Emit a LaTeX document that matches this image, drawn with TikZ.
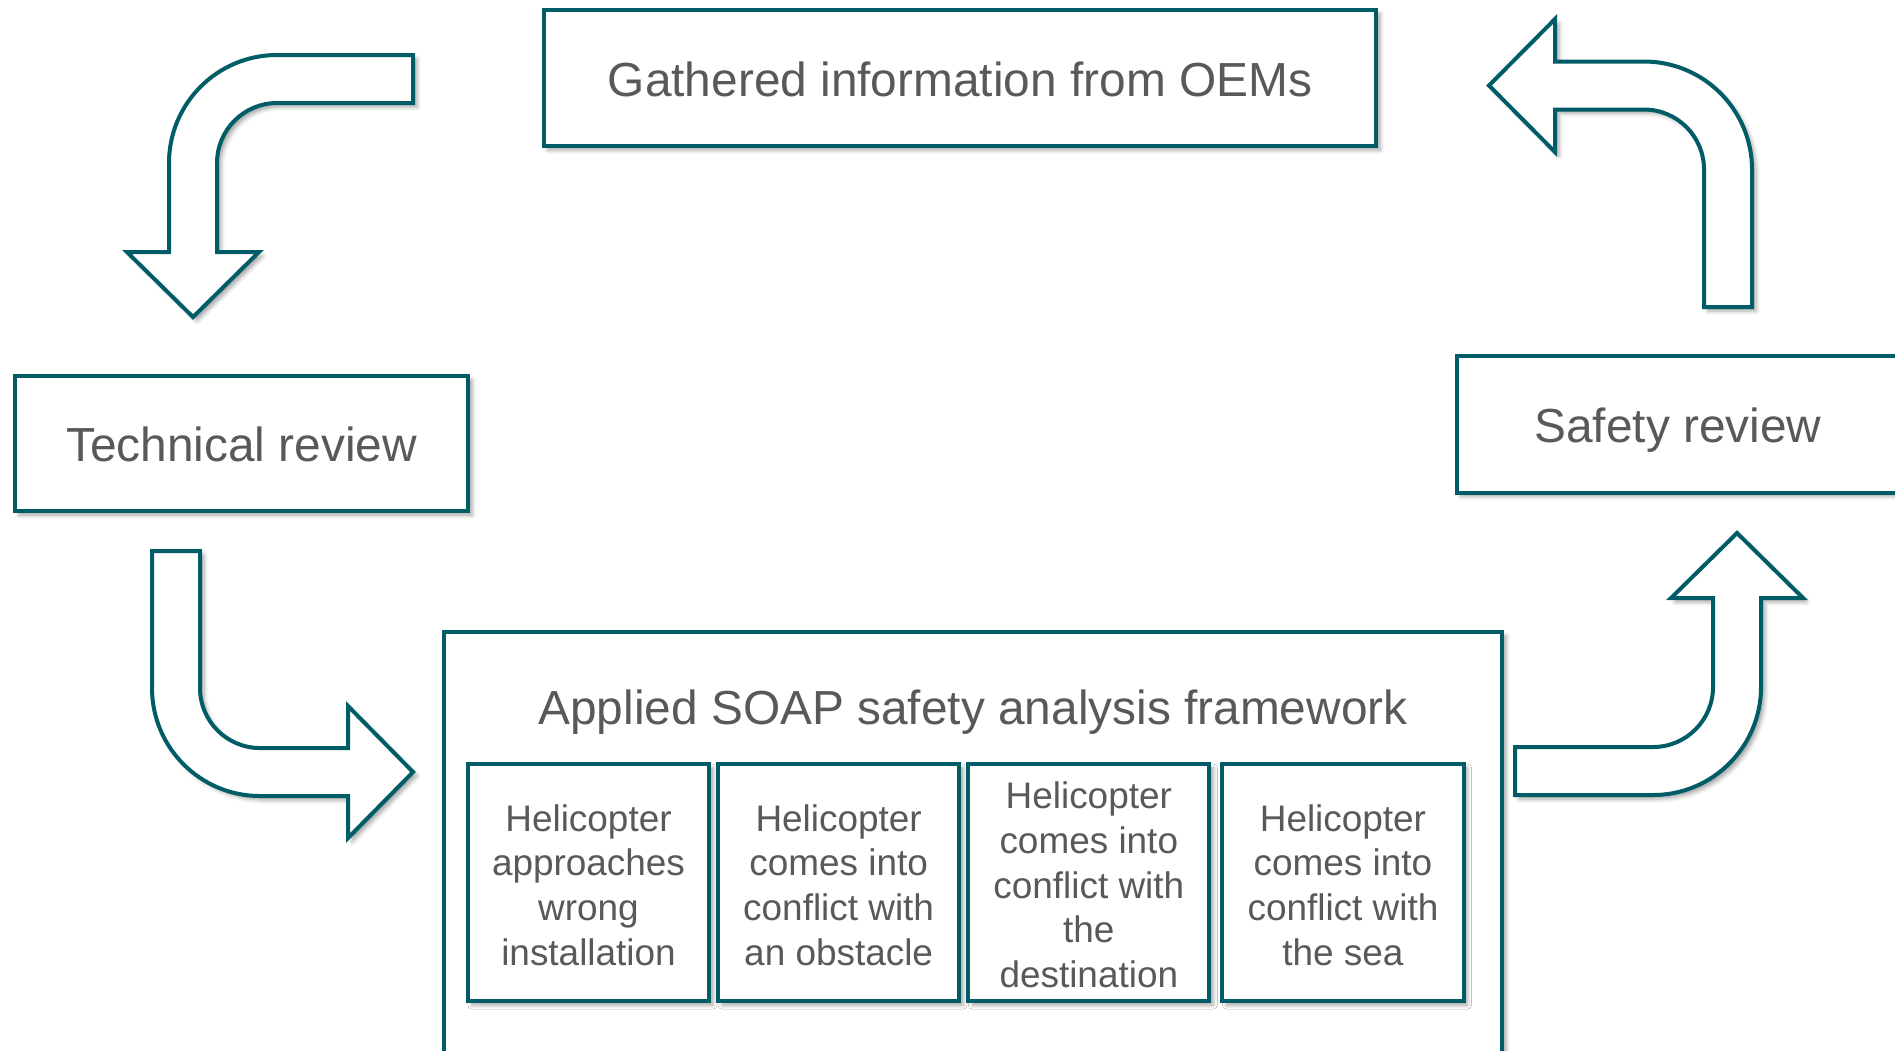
\documentclass[tikz,border=0pt]{standalone}
\usepackage{fontspec}
\setmainfont{Liberation Sans}
\usetikzlibrary{positioning, shadows.blur}

\definecolor{petrol}{RGB}{0,92,102}
\definecolor{txtgrey}{RGB}{89,89,89}

\begin{document}
\begin{tikzpicture}[
          x=0.01cm, y=-0.01cm,
          every node/.style={text=txtgrey},
          soft/.style={blur shadow={shadow xshift=0.04cm, shadow yshift=-0.04cm,
                       shadow blur radius=0.04cm, shadow opacity=35}},
          frame/.style={draw=petrol, line width=0.04cm, fill=white, soft, align=center, inner sep=0pt},
          big/.style={font=\fontsize{13.6}{16.3}\selectfont, text height=10.5pt, text depth=0pt},
          box/.style={frame, big},
          stepbox/.style={frame, minimum width=2.41cm, minimum height=2.37cm,
                          font=\fontsize{10.5}{12.7}\selectfont},
          bendarrow/.style={draw=petrol, line width=0.04cm, fill=white, soft}
        ]
        \useasboundingbox (0,0) rectangle (1895,1050);
        \clip (0,0) rectangle (1895,1050);

        % the four stages
        \node[box, minimum width=8.32cm, minimum height=1.36cm] (oems) at (960,78)
          {Gathered information from OEMs};
        \node[box, minimum width=4.53cm, minimum height=1.35cm] (tech) at (241.5,443.5)
          {Technical review};
        \node[box, minimum width=4.42cm, minimum height=1.36cm] (safety) at (1678,424.5)
          {Safety review};
        \node[frame, minimum width=10.58cm, minimum height=4.40cm] (soap) at (973,852) {};
        \node[big, inner sep=0pt] (soaptitle) at (973,706)
          {Applied SOAP safety analysis framework};

        % SOAP scenarios
        \node[stepbox] (wrong) at (588.5,882.5) {\rule{0pt}{0.86em}Helicopter\\approaches\\wrong\\installation};
        \node[stepbox, right=0.05cm of wrong] (obstacle) {\rule{0pt}{0.86em}Helicopter\\comes into\\conflict with\\an obstacle};
        \node[stepbox, right=0.05cm of obstacle] (dest) {\rule{0pt}{0.86em}Helicopter\\comes into\\conflict with\\the\\destination};
        \node[stepbox, right=0.09cm of dest] (sea) {\rule{0pt}{0.86em}Helicopter\\comes into\\conflict with\\the sea};

        % bent block arrows round the cycle
        \draw[bendarrow] (413,55) -- (277,55) arc[start angle=270, end angle=180, radius=108]
          -- (169,252) -- (127,252) -- (193,317) -- (259,252) -- (217,252) -- (217,163)
          arc[start angle=180, end angle=270, radius=60] -- (413,103) -- cycle;
        \draw[bendarrow] (152,551) -- (200,551) -- (200,688) arc[start angle=180, end angle=90, radius=60]
          -- (348,748) -- (348,706) -- (413,772) -- (348,838) -- (348,796) -- (260,796)
          arc[start angle=90, end angle=180, radius=108] -- cycle;
        \draw[bendarrow] (1515,747) -- (1653,747) arc[start angle=90, end angle=0, radius=60]
          -- (1713,598) -- (1671,598) -- (1737,533) -- (1803,598) -- (1761,598) -- (1761,687)
          arc[start angle=0, end angle=90, radius=108] -- (1515,795) -- cycle;
        \draw[bendarrow] (1489,85.5) -- (1555,19) -- (1555,61.5) -- (1644,61.5)
          arc[start angle=270, end angle=360, radius=108] -- (1752,307) -- (1704,307) -- (1704,169.5)
          arc[start angle=0, end angle=-90, radius=60] -- (1555,109.5) -- (1555,152) -- cycle;
      \end{tikzpicture}
\end{document}
